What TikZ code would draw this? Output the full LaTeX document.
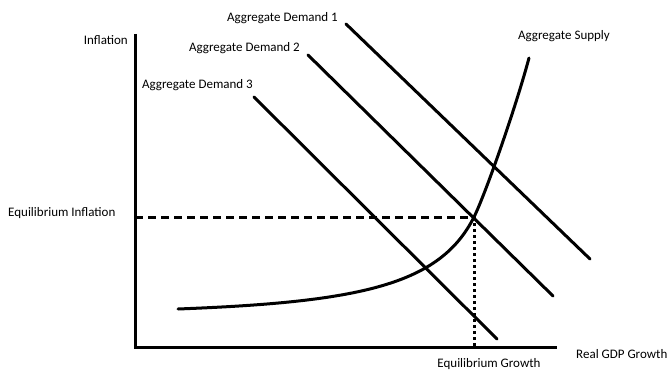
\documentclass[tikz,border=0pt]{standalone}
\usepackage{fontspec}
\setmainfont{Carlito}
\usetikzlibrary{positioning}
\tikzset{
  asse/.style  = {line width=3pt},
  curva/.style = {line width=3pt, line cap=round},
  guida/.style = {line width=3pt, dash pattern=on 8pt off 5pt},
  punti/.style = {line width=3pt, dash pattern=on 3pt off 3pt},
  et/.style    = {font=\fontsize{13}{15}\selectfont, inner sep=0}
}
\begin{document}
\begin{tikzpicture}[x=1pt, y=-1pt]
  \useasboundingbox (0,0) rectangle (668,371);

  % assi
  \coordinate (O)  at (135,347);
  \coordinate (Yt) at (135,34);
  \coordinate (Xr) at (557,347);
  \draw[asse] (Yt)--(O)--(Xr);

  % domanda aggregata
  \coordinate (a1) at (346,24);  \coordinate (b1) at (590,259);
  \coordinate (a2) at (308,55);  \coordinate (b2) at (553,296);
  \coordinate (a3) at (254,97);  \coordinate (b3) at (497,339);
  \draw[curva] (a1)--(b1);
  \draw[curva] (a2)--(b2);
  \draw[curva] (a3)--(b3);

  % offerta aggregata
  \coordinate (s0) at (178,309);
  \coordinate (E)  at (474,217);
  \coordinate (s1) at (529,58);
  \draw[curva] (s0) .. controls (360,302) and (440,285) .. (E)
                    .. controls (485,195) and (515,110) .. (s1);

  % equilibrio
  \coordinate (Ey) at (135,217);
  \coordinate (Ex) at (474,347);
  \draw[guida] (Ey)--(E);
  \draw[punti] (E)--(Ex);

  % etichette
  \node[et, anchor=east] (inf)  at (128,40)  {Inflation};
  \node[et, anchor=west] (einf) at (8,213)   {Equilibrium Inflation};
  \node[et, anchor=east] (ad1)  at (338,18)  {Aggregate Demand 1};
  \node[et, anchor=east] (ad2)  at (300,48)  {Aggregate Demand 2};
  \node[et, anchor=east] (ad3)  at (253,85)  {Aggregate Demand 3};
  \node[et, anchor=west] (as)   at (518,36)  {Aggregate Supply};
  \node[et, anchor=west] (gdp)  at (576,354) {Real GDP Growth};
  \node[et]              (eg)   at (489,364) {Equilibrium Growth};
\end{tikzpicture}
\end{document}
